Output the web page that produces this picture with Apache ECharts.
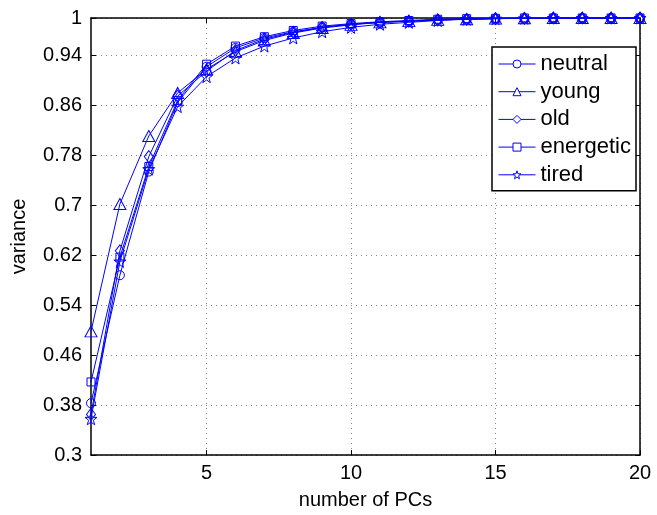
<!DOCTYPE html>
<html><head><meta charset="utf-8">
<script src="https://cdn.jsdelivr.net/npm/echarts@6/dist/echarts.min.js"></script>
<style>html,body{margin:0;padding:0;background:#fff;}#c{width:657px;height:515px;}</style>
</head><body><div id="c"></div>
<script>
const pcs = [1,2,3,4,5,6,7,8,9,10,11,12,13,14,15,16,17,18,19,20];
const neutral   = [0.383,0.588,0.754,0.865,0.922,0.952,0.968,0.978,0.985,0.990,0.993,0.995,0.997,0.998,0.999,0.9995,1,1,1,1];
const young     = [0.498,0.702,0.811,0.880,0.918,0.946,0.964,0.976,0.984,0.989,0.993,0.995,0.997,0.998,0.999,0.9995,1,1,1,1];
const old       = [0.365,0.627,0.778,0.875,0.915,0.948,0.966,0.977,0.985,0.990,0.993,0.995,0.997,0.998,0.999,0.9995,1,1,1,1];
const energetic = [0.417,0.617,0.762,0.868,0.926,0.955,0.970,0.980,0.987,0.991,0.994,0.996,0.998,0.999,0.9995,1,1,1,1,1];
const tired     = [0.358,0.610,0.758,0.858,0.906,0.936,0.955,0.968,0.978,0.985,0.990,0.993,0.996,0.998,0.999,0.9995,1,1,1,1];
const seriesNames = ['neutral','young','old','energetic','tired'];
const xTicks = [5,10,15,20];
const yTicks = [0.3,0.38,0.46,0.54,0.62,0.7,0.78,0.86,0.94,1];

const starPath = 'path://M0,-10 L2.35,-3.24 L9.51,-3.09 L3.8,1.24 L5.88,8.09 L0,4 L-5.88,8.09 L-3.8,1.24 L-9.51,-3.09 L-2.35,-3.24 Z';
const symbols = ['circle','triangle','diamond','rect',starPath];
const sizes = [[9,9],[12,11],[9,12],[8,8],[12,12]];
const dataSets = [neutral, young, old, energetic, tired];
const blue = '#0000ff';
const font = 'Liberation Sans, Arial, sans-serif';

const series = seriesNames.map((n,i)=>({
  name:n, type:'line', data: pcs.map((x,j)=>[x, dataSets[i][j]]),
  symbol: symbols[i], symbolSize: sizes[i], showAllSymbol:true,
  lineStyle:{color:blue,width:1},
  itemStyle:{color:'rgba(255,255,255,0)',borderColor:blue,borderWidth:1},
  emphasis:{disabled:true}, animation:false, z: 2
}));

const gridLine = {show:true,lineStyle:{color:'#888',width:1,type:[1,4]}};
const chart = echarts.init(document.getElementById('c'));
chart.setOption({
  animation:false,
  grid:{left:91,right:17,top:18,bottom:60,containLabel:false},
  xAxis:[{
    type:'value',min:1,max:20,position:'bottom',
    name:'number of PCs',nameLocation:'middle',nameGap:35,
    nameTextStyle:{fontFamily:font,fontSize:20,color:'#000'},
    axisLine:{show:true,onZero:false,lineStyle:{color:'#000',width:1.5}},
    axisTick:{show:true,inside:true,length:5,customValues:xTicks,lineStyle:{color:'#000'}},
    axisLabel:{customValues:xTicks,fontFamily:font,fontSize:20,color:'#000',margin:8},
    splitLine:gridLine
  },{
    type:'value',min:1,max:20,position:'top',
    axisLine:{show:true,onZero:false,lineStyle:{color:'#000',width:1.5}},
    axisTick:{show:true,inside:true,length:5,customValues:xTicks,lineStyle:{color:'#000'}},
    axisLabel:{show:false,customValues:xTicks},
    splitLine:{show:false}
  }],
  yAxis:[{
    type:'value',min:0.3,max:1,position:'left',
    name:'variance',nameLocation:'middle',nameGap:62,
    nameTextStyle:{fontFamily:font,fontSize:20,color:'#000'},
    axisLine:{show:true,onZero:false,lineStyle:{color:'#000',width:1.5}},
    axisTick:{show:true,inside:true,length:5,customValues:yTicks,lineStyle:{color:'#000'}},
    axisLabel:{customValues:yTicks,fontFamily:font,fontSize:20,color:'#000',margin:9},
    splitLine:gridLine
  },{
    type:'value',min:0.3,max:1,position:'right',
    axisLine:{show:true,onZero:false,lineStyle:{color:'#000',width:1.5}},
    axisTick:{show:true,inside:true,length:5,customValues:yTicks,lineStyle:{color:'#000'}},
    axisLabel:{show:false,customValues:yTicks},
    splitLine:{show:false}
  }],
  legend:{
    data:seriesNames, orient:'vertical', left:492, top:47,
    backgroundColor:'#fff', borderColor:'#000', borderWidth:1.5,
    padding:[6,5,5,6], itemWidth:37, itemHeight:10, itemGap:5.7,
    lineStyle:{width:1,color:blue},
    itemStyle:{color:'#fff',borderColor:blue,borderWidth:1},
    textStyle:{fontFamily:font,fontSize:22,color:'#000',lineHeight:22},
    selectedMode:false
  },
  series: series
});
</script></body></html>
